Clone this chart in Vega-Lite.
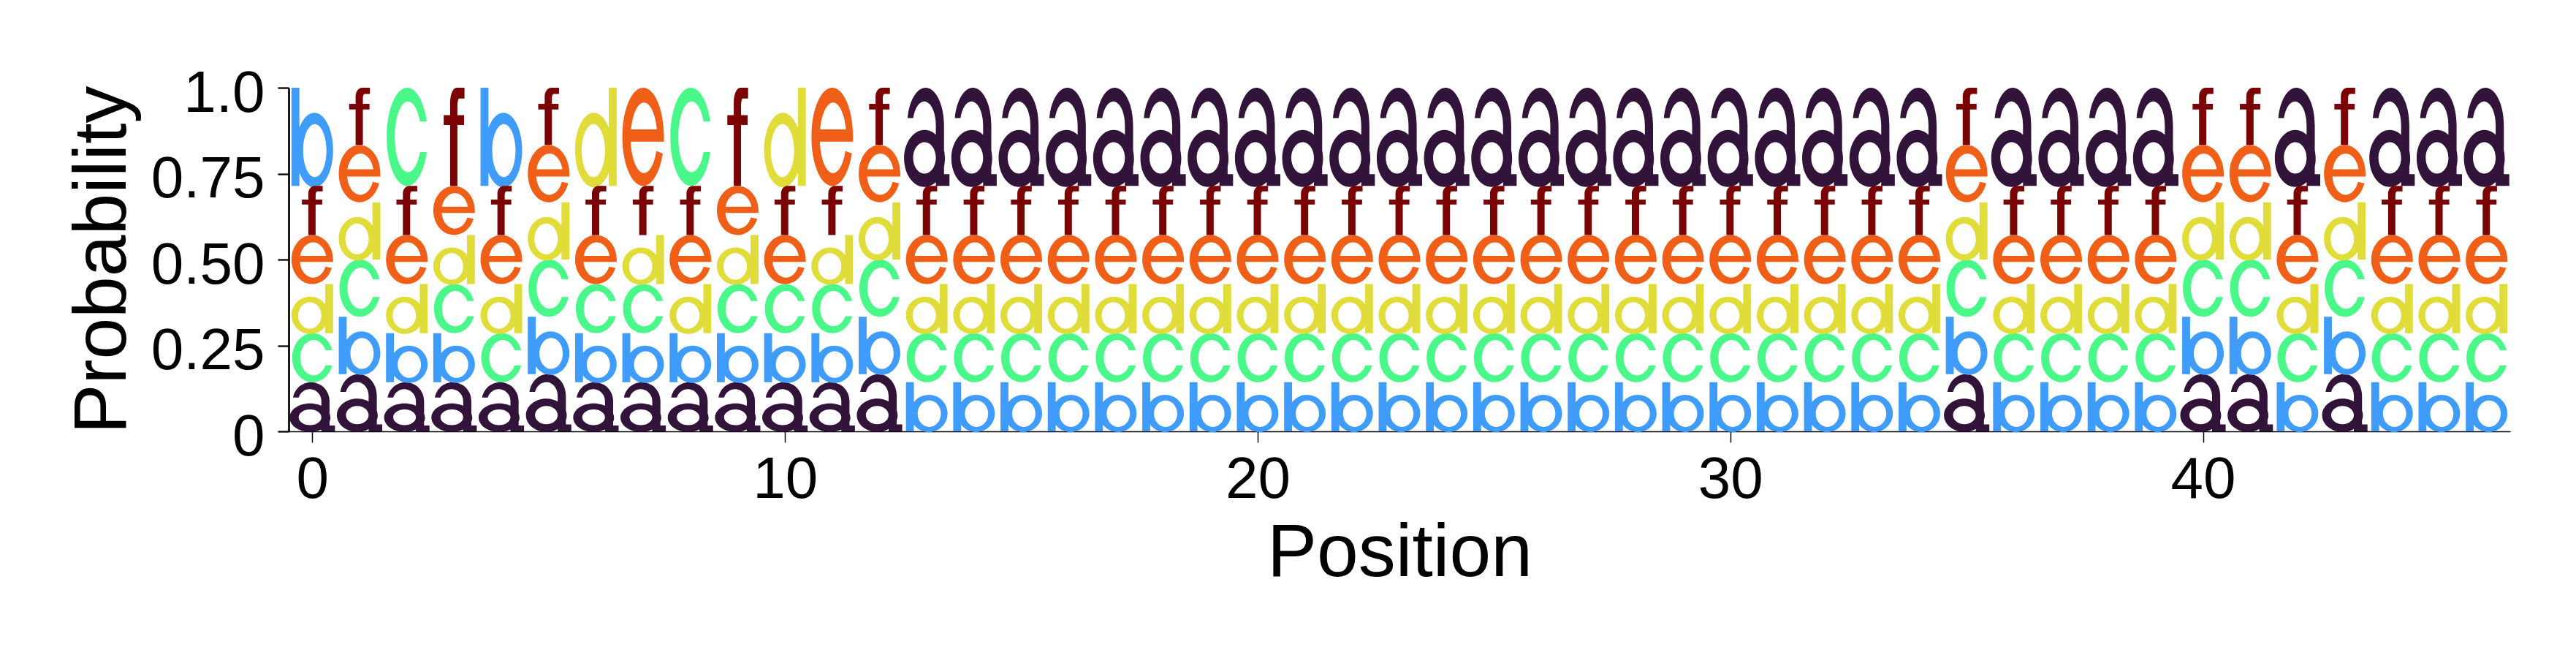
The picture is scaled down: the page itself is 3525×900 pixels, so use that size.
{
  "$schema": "https://vega.github.io/schema/vega-lite/v6.json",
  "width": 3040,
  "height": 470,
  "autosize": {"type": "none"},
  "padding": {"left": 395, "top": 120, "right": 90, "bottom": 310},
  "background": "white",
  "data": {"values": [
    {"p":0,"l":"a","v":0.142857},{"p":0,"l":"b","v":0.285714},{"p":0,"l":"c","v":0.142857},{"p":0,"l":"d","v":0.142857},{"p":0,"l":"e","v":0.142857},{"p":0,"l":"f","v":0.142857},
    {"p":1,"l":"a","v":0.166667},{"p":1,"l":"b","v":0.166667},{"p":1,"l":"c","v":0.166667},{"p":1,"l":"d","v":0.166667},{"p":1,"l":"e","v":0.166667},{"p":1,"l":"f","v":0.166667},
    {"p":2,"l":"a","v":0.142857},{"p":2,"l":"b","v":0.142857},{"p":2,"l":"c","v":0.285714},{"p":2,"l":"d","v":0.142857},{"p":2,"l":"e","v":0.142857},{"p":2,"l":"f","v":0.142857},
    {"p":3,"l":"a","v":0.142857},{"p":3,"l":"b","v":0.142857},{"p":3,"l":"c","v":0.142857},{"p":3,"l":"d","v":0.142857},{"p":3,"l":"e","v":0.142857},{"p":3,"l":"f","v":0.285714},
    {"p":4,"l":"a","v":0.142857},{"p":4,"l":"b","v":0.285714},{"p":4,"l":"c","v":0.142857},{"p":4,"l":"d","v":0.142857},{"p":4,"l":"e","v":0.142857},{"p":4,"l":"f","v":0.142857},
    {"p":5,"l":"a","v":0.166667},{"p":5,"l":"b","v":0.166667},{"p":5,"l":"c","v":0.166667},{"p":5,"l":"d","v":0.166667},{"p":5,"l":"e","v":0.166667},{"p":5,"l":"f","v":0.166667},
    {"p":6,"l":"a","v":0.142857},{"p":6,"l":"b","v":0.142857},{"p":6,"l":"c","v":0.142857},{"p":6,"l":"d","v":0.285714},{"p":6,"l":"e","v":0.142857},{"p":6,"l":"f","v":0.142857},
    {"p":7,"l":"a","v":0.142857},{"p":7,"l":"b","v":0.142857},{"p":7,"l":"c","v":0.142857},{"p":7,"l":"d","v":0.142857},{"p":7,"l":"e","v":0.285714},{"p":7,"l":"f","v":0.142857},
    {"p":8,"l":"a","v":0.142857},{"p":8,"l":"b","v":0.142857},{"p":8,"l":"c","v":0.285714},{"p":8,"l":"d","v":0.142857},{"p":8,"l":"e","v":0.142857},{"p":8,"l":"f","v":0.142857},
    {"p":9,"l":"a","v":0.142857},{"p":9,"l":"b","v":0.142857},{"p":9,"l":"c","v":0.142857},{"p":9,"l":"d","v":0.142857},{"p":9,"l":"e","v":0.142857},{"p":9,"l":"f","v":0.285714},
    {"p":10,"l":"a","v":0.142857},{"p":10,"l":"b","v":0.142857},{"p":10,"l":"c","v":0.142857},{"p":10,"l":"d","v":0.285714},{"p":10,"l":"e","v":0.142857},{"p":10,"l":"f","v":0.142857},
    {"p":11,"l":"a","v":0.142857},{"p":11,"l":"b","v":0.142857},{"p":11,"l":"c","v":0.142857},{"p":11,"l":"d","v":0.142857},{"p":11,"l":"e","v":0.285714},{"p":11,"l":"f","v":0.142857},
    {"p":12,"l":"a","v":0.166667},{"p":12,"l":"b","v":0.166667},{"p":12,"l":"c","v":0.166667},{"p":12,"l":"d","v":0.166667},{"p":12,"l":"e","v":0.166667},{"p":12,"l":"f","v":0.166667},
    {"p":13,"l":"a","v":0.285714},{"p":13,"l":"b","v":0.142857},{"p":13,"l":"c","v":0.142857},{"p":13,"l":"d","v":0.142857},{"p":13,"l":"e","v":0.142857},{"p":13,"l":"f","v":0.142857},
    {"p":14,"l":"a","v":0.285714},{"p":14,"l":"b","v":0.142857},{"p":14,"l":"c","v":0.142857},{"p":14,"l":"d","v":0.142857},{"p":14,"l":"e","v":0.142857},{"p":14,"l":"f","v":0.142857},
    {"p":15,"l":"a","v":0.285714},{"p":15,"l":"b","v":0.142857},{"p":15,"l":"c","v":0.142857},{"p":15,"l":"d","v":0.142857},{"p":15,"l":"e","v":0.142857},{"p":15,"l":"f","v":0.142857},
    {"p":16,"l":"a","v":0.285714},{"p":16,"l":"b","v":0.142857},{"p":16,"l":"c","v":0.142857},{"p":16,"l":"d","v":0.142857},{"p":16,"l":"e","v":0.142857},{"p":16,"l":"f","v":0.142857},
    {"p":17,"l":"a","v":0.285714},{"p":17,"l":"b","v":0.142857},{"p":17,"l":"c","v":0.142857},{"p":17,"l":"d","v":0.142857},{"p":17,"l":"e","v":0.142857},{"p":17,"l":"f","v":0.142857},
    {"p":18,"l":"a","v":0.285714},{"p":18,"l":"b","v":0.142857},{"p":18,"l":"c","v":0.142857},{"p":18,"l":"d","v":0.142857},{"p":18,"l":"e","v":0.142857},{"p":18,"l":"f","v":0.142857},
    {"p":19,"l":"a","v":0.285714},{"p":19,"l":"b","v":0.142857},{"p":19,"l":"c","v":0.142857},{"p":19,"l":"d","v":0.142857},{"p":19,"l":"e","v":0.142857},{"p":19,"l":"f","v":0.142857},
    {"p":20,"l":"a","v":0.285714},{"p":20,"l":"b","v":0.142857},{"p":20,"l":"c","v":0.142857},{"p":20,"l":"d","v":0.142857},{"p":20,"l":"e","v":0.142857},{"p":20,"l":"f","v":0.142857},
    {"p":21,"l":"a","v":0.285714},{"p":21,"l":"b","v":0.142857},{"p":21,"l":"c","v":0.142857},{"p":21,"l":"d","v":0.142857},{"p":21,"l":"e","v":0.142857},{"p":21,"l":"f","v":0.142857},
    {"p":22,"l":"a","v":0.285714},{"p":22,"l":"b","v":0.142857},{"p":22,"l":"c","v":0.142857},{"p":22,"l":"d","v":0.142857},{"p":22,"l":"e","v":0.142857},{"p":22,"l":"f","v":0.142857},
    {"p":23,"l":"a","v":0.285714},{"p":23,"l":"b","v":0.142857},{"p":23,"l":"c","v":0.142857},{"p":23,"l":"d","v":0.142857},{"p":23,"l":"e","v":0.142857},{"p":23,"l":"f","v":0.142857},
    {"p":24,"l":"a","v":0.285714},{"p":24,"l":"b","v":0.142857},{"p":24,"l":"c","v":0.142857},{"p":24,"l":"d","v":0.142857},{"p":24,"l":"e","v":0.142857},{"p":24,"l":"f","v":0.142857},
    {"p":25,"l":"a","v":0.285714},{"p":25,"l":"b","v":0.142857},{"p":25,"l":"c","v":0.142857},{"p":25,"l":"d","v":0.142857},{"p":25,"l":"e","v":0.142857},{"p":25,"l":"f","v":0.142857},
    {"p":26,"l":"a","v":0.285714},{"p":26,"l":"b","v":0.142857},{"p":26,"l":"c","v":0.142857},{"p":26,"l":"d","v":0.142857},{"p":26,"l":"e","v":0.142857},{"p":26,"l":"f","v":0.142857},
    {"p":27,"l":"a","v":0.285714},{"p":27,"l":"b","v":0.142857},{"p":27,"l":"c","v":0.142857},{"p":27,"l":"d","v":0.142857},{"p":27,"l":"e","v":0.142857},{"p":27,"l":"f","v":0.142857},
    {"p":28,"l":"a","v":0.285714},{"p":28,"l":"b","v":0.142857},{"p":28,"l":"c","v":0.142857},{"p":28,"l":"d","v":0.142857},{"p":28,"l":"e","v":0.142857},{"p":28,"l":"f","v":0.142857},
    {"p":29,"l":"a","v":0.285714},{"p":29,"l":"b","v":0.142857},{"p":29,"l":"c","v":0.142857},{"p":29,"l":"d","v":0.142857},{"p":29,"l":"e","v":0.142857},{"p":29,"l":"f","v":0.142857},
    {"p":30,"l":"a","v":0.285714},{"p":30,"l":"b","v":0.142857},{"p":30,"l":"c","v":0.142857},{"p":30,"l":"d","v":0.142857},{"p":30,"l":"e","v":0.142857},{"p":30,"l":"f","v":0.142857},
    {"p":31,"l":"a","v":0.285714},{"p":31,"l":"b","v":0.142857},{"p":31,"l":"c","v":0.142857},{"p":31,"l":"d","v":0.142857},{"p":31,"l":"e","v":0.142857},{"p":31,"l":"f","v":0.142857},
    {"p":32,"l":"a","v":0.285714},{"p":32,"l":"b","v":0.142857},{"p":32,"l":"c","v":0.142857},{"p":32,"l":"d","v":0.142857},{"p":32,"l":"e","v":0.142857},{"p":32,"l":"f","v":0.142857},
    {"p":33,"l":"a","v":0.285714},{"p":33,"l":"b","v":0.142857},{"p":33,"l":"c","v":0.142857},{"p":33,"l":"d","v":0.142857},{"p":33,"l":"e","v":0.142857},{"p":33,"l":"f","v":0.142857},
    {"p":34,"l":"a","v":0.285714},{"p":34,"l":"b","v":0.142857},{"p":34,"l":"c","v":0.142857},{"p":34,"l":"d","v":0.142857},{"p":34,"l":"e","v":0.142857},{"p":34,"l":"f","v":0.142857},
    {"p":35,"l":"a","v":0.166667},{"p":35,"l":"b","v":0.166667},{"p":35,"l":"c","v":0.166667},{"p":35,"l":"d","v":0.166667},{"p":35,"l":"e","v":0.166667},{"p":35,"l":"f","v":0.166667},
    {"p":36,"l":"a","v":0.285714},{"p":36,"l":"b","v":0.142857},{"p":36,"l":"c","v":0.142857},{"p":36,"l":"d","v":0.142857},{"p":36,"l":"e","v":0.142857},{"p":36,"l":"f","v":0.142857},
    {"p":37,"l":"a","v":0.285714},{"p":37,"l":"b","v":0.142857},{"p":37,"l":"c","v":0.142857},{"p":37,"l":"d","v":0.142857},{"p":37,"l":"e","v":0.142857},{"p":37,"l":"f","v":0.142857},
    {"p":38,"l":"a","v":0.285714},{"p":38,"l":"b","v":0.142857},{"p":38,"l":"c","v":0.142857},{"p":38,"l":"d","v":0.142857},{"p":38,"l":"e","v":0.142857},{"p":38,"l":"f","v":0.142857},
    {"p":39,"l":"a","v":0.285714},{"p":39,"l":"b","v":0.142857},{"p":39,"l":"c","v":0.142857},{"p":39,"l":"d","v":0.142857},{"p":39,"l":"e","v":0.142857},{"p":39,"l":"f","v":0.142857},
    {"p":40,"l":"a","v":0.166667},{"p":40,"l":"b","v":0.166667},{"p":40,"l":"c","v":0.166667},{"p":40,"l":"d","v":0.166667},{"p":40,"l":"e","v":0.166667},{"p":40,"l":"f","v":0.166667},
    {"p":41,"l":"a","v":0.166667},{"p":41,"l":"b","v":0.166667},{"p":41,"l":"c","v":0.166667},{"p":41,"l":"d","v":0.166667},{"p":41,"l":"e","v":0.166667},{"p":41,"l":"f","v":0.166667},
    {"p":42,"l":"a","v":0.285714},{"p":42,"l":"b","v":0.142857},{"p":42,"l":"c","v":0.142857},{"p":42,"l":"d","v":0.142857},{"p":42,"l":"e","v":0.142857},{"p":42,"l":"f","v":0.142857},
    {"p":43,"l":"a","v":0.166667},{"p":43,"l":"b","v":0.166667},{"p":43,"l":"c","v":0.166667},{"p":43,"l":"d","v":0.166667},{"p":43,"l":"e","v":0.166667},{"p":43,"l":"f","v":0.166667},
    {"p":44,"l":"a","v":0.285714},{"p":44,"l":"b","v":0.142857},{"p":44,"l":"c","v":0.142857},{"p":44,"l":"d","v":0.142857},{"p":44,"l":"e","v":0.142857},{"p":44,"l":"f","v":0.142857},
    {"p":45,"l":"a","v":0.285714},{"p":45,"l":"b","v":0.142857},{"p":45,"l":"c","v":0.142857},{"p":45,"l":"d","v":0.142857},{"p":45,"l":"e","v":0.142857},{"p":45,"l":"f","v":0.142857},
    {"p":46,"l":"a","v":0.285714},{"p":46,"l":"b","v":0.142857},{"p":46,"l":"c","v":0.142857},{"p":46,"l":"d","v":0.142857},{"p":46,"l":"e","v":0.142857},{"p":46,"l":"f","v":0.142857}
  ]},
  "transform": [
    {"stack": "v", "groupby": ["p"], "sort": [{"field": "v", "order": "ascending"}, {"field": "l", "order": "ascending"}], "as": ["y0", "y1"]},
    {"calculate": "datum.v * 14.533", "as": "t"},
    {"calculate": "datum.l == 'a' ? ('M0.7296,'+(-0.62*datum.t)+'A0.7776,'+(0.38*datum.t)+',0,0,0,-0.8123,'+(-0.69*datum.t)+'L-0.5739,'+(-0.69*datum.t)+'A0.4896,'+(0.24*datum.t)+',0,0,1,0.384,'+(-0.62*datum.t)+'L0.384,0L0.96,0L0.96,'+(-0.12*datum.t)+'L0.7296,'+(-0.12*datum.t)+'ZM-0.96,'+(-0.28*datum.t)+'A0.864,'+(0.29*datum.t)+',0,1,0,0.768,'+(-0.28*datum.t)+'A0.864,'+(0.29*datum.t)+',0,1,0,-0.96,'+(-0.28*datum.t)+'ZM-0.576,'+(-0.285*datum.t)+'A0.48,'+(0.16*datum.t)+',0,1,1,0.384,'+(-0.285*datum.t)+'A0.48,'+(0.16*datum.t)+',0,1,1,-0.576,'+(-0.285*datum.t)+'Z') : datum.l == 'b' ? ('M-0.88,'+(-datum.t)+'L-0.88,0L-0.5456,0L-0.5456,'+(-datum.t)+'ZM-0.704,'+(-0.365*datum.t)+'A0.792,'+(0.38*datum.t)+',0,1,0,0.88,'+(-0.365*datum.t)+'A0.792,'+(0.38*datum.t)+',0,1,0,-0.704,'+(-0.365*datum.t)+'ZM-0.3872,'+(-0.36*datum.t)+'A0.4928,'+(0.27*datum.t)+',0,1,1,0.5984,'+(-0.36*datum.t)+'A0.4928,'+(0.27*datum.t)+',0,1,1,-0.3872,'+(-0.36*datum.t)+'Z') : datum.l == 'c' ? ('M0.8415,'+(-0.655*datum.t)+'A0.867,'+(0.5*datum.t)+',0,1,0,0.8415,'+(-0.345*datum.t)+'L0.5574,'+(-0.345*datum.t)+'A0.561,'+(0.36*datum.t)+',0,1,1,0.5574,'+(-0.655*datum.t)+'Z') : datum.l == 'd' ? ('M0.5456,'+(-datum.t)+'L0.5456,0L0.88,0L0.88,'+(-datum.t)+'ZM-0.88,'+(-0.365*datum.t)+'A0.792,'+(0.38*datum.t)+',0,1,0,0.704,'+(-0.365*datum.t)+'A0.792,'+(0.38*datum.t)+',0,1,0,-0.88,'+(-0.365*datum.t)+'ZM-0.5984,'+(-0.36*datum.t)+'A0.4928,'+(0.27*datum.t)+',0,1,1,0.3872,'+(-0.36*datum.t)+'A0.4928,'+(0.27*datum.t)+',0,1,1,-0.5984,'+(-0.36*datum.t)+'Z') : datum.l == 'e' ? ('M0.88,'+(-0.45*datum.t)+'L0.88,'+(-0.5*datum.t)+'A0.88,'+(0.5*datum.t)+',0,1,0,0.8276,'+(-0.33*datum.t)+'L0.5573,'+(-0.355*datum.t)+'A0.5632,'+(0.36*datum.t)+',0,0,1,-0.5245,'+(-0.45*datum.t)+'ZM0.5825,'+(-0.575*datum.t)+'L-0.5121,'+(-0.575*datum.t)+'A0.5632,'+(0.36*datum.t)+',0,0,1,0.5825,'+(-0.575*datum.t)+'Z') : ('M-0.1672,0L-0.1672,'+(-0.85*datum.t)+'A0.2728,'+(0.15*datum.t)+',0,0,1,0.1056,'+(-datum.t)+'L0.44,'+(-datum.t)+'L0.44,'+(-0.89*datum.t)+'L0.2112,'+(-0.89*datum.t)+'A0.0704,'+(0.08*datum.t)+',0,0,0,0.1408,'+(-0.81*datum.t)+'L0.1408,0ZM-0.44,'+(-0.62*datum.t)+'L-0.44,'+(-0.72*datum.t)+'L0.42,'+(-0.72*datum.t)+'L0.42,'+(-0.62*datum.t)+'Z')", "as": "g"}
  ],
  "mark": {"type": "point", "filled": true, "opacity": 1, "size": 4184, "strokeWidth": 0},
  "encoding": {
    "x": {"field": "p", "type": "quantitative",
      "scale": {"domain": [-0.5, 46.5], "nice": false, "zero": false},
      "axis": {"values": [0, 10, 20, 30, 40], "title": "Position", "domainWidth": 1.3, "tickWidth": 1.5, "tickSize": 15, "labelPadding": 12, "titlePadding": 10, "labelFlush": false, "labelOverlap": false}},
    "y": {"field": "y0", "type": "quantitative",
      "scale": {"domain": [0, 1], "nice": false, "zero": false},
      "axis": {"values": [0, 0.25, 0.5, 0.75, 1], "labelExpr": "datum.value == 0 ? '0' : datum.value == 1 ? '1.0' : format(datum.value, '.2f')", "title": "Probability", "domainWidth": 2.7, "tickWidth": 2.3, "tickSize": 15, "labelPadding": 18, "labelOffset": 8, "labelBaseline": "middle", "titlePadding": 14, "labelFlush": false, "labelOverlap": false}},
    "color": {"field": "l", "type": "nominal",
      "scale": {"domain": ["a", "b", "c", "d", "e", "f"], "range": ["#321339", "#3f9cfb", "#49f889", "#e0dc39", "#f05f17", "#7a0403"]},
      "legend": null},
    "shape": {"field": "g", "type": "nominal", "scale": null, "legend": null}
  },
  "config": {
    "view": {"stroke": null},
    "axis": {"grid": false, "labelFont": "Liberation Sans", "titleFont": "Liberation Sans", "labelFontSize": 80, "titleFontSize": 102, "titleFontWeight": "normal", "labelColor": "#000000", "titleColor": "#000000", "domainColor": "#000000", "tickColor": "#000000"}
  }
}
